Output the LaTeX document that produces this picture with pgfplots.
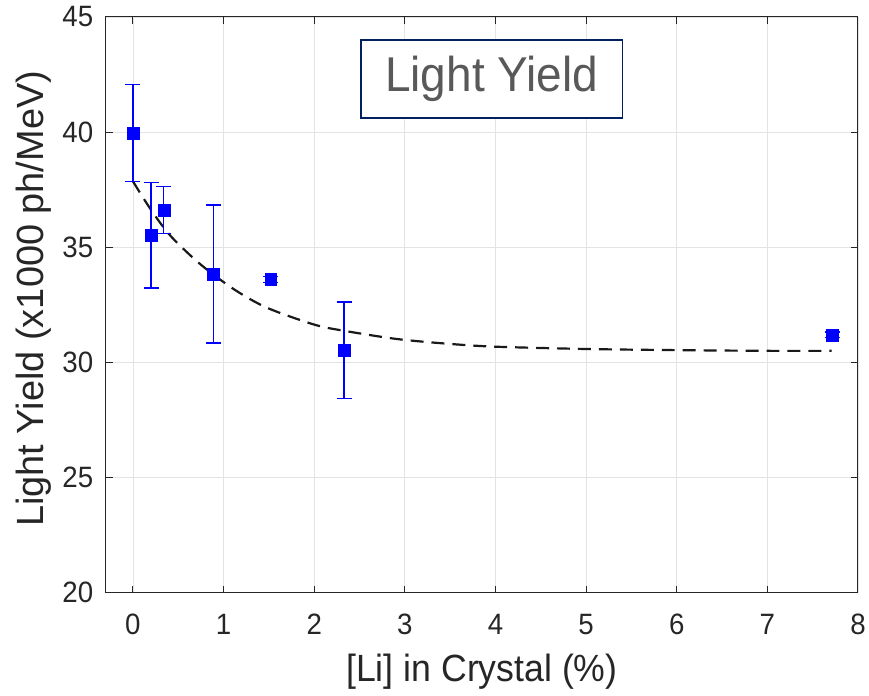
\documentclass[border=0pt]{standalone}
\usepackage{pgfplots}
\pgfplotsset{compat=1.18}
\usepackage{graphicx}
\usepackage{fontspec}
\setmainfont{Liberation Sans}
\definecolor{axgray}{gray}{0.15}
\definecolor{titlegray}{RGB}{89,89,89}
\definecolor{navy}{RGB}{0,32,96}
\definecolor{mblue}{RGB}{0,0,255}
\newcommand{\hs}[1]{\scalebox{0.94}[1]{#1}}
\begin{document}
\begin{tikzpicture}
\begin{axis}[
 scale only axis, width=754pt, height=577pt,
 xmin=-0.3, xmax=8, ymin=20, ymax=45,
 xtick={0,1,2,3,4,5,6,7,8}, ytick={20,25,30,35,40,45},
 xticklabels={\hs{0},\hs{1},\hs{2},\hs{3},\hs{4},\hs{5},\hs{6},\hs{7},\hs{8}},
 yticklabels={\hs{20},\hs{25},\hs{30},\hs{35},\hs{40},\hs{45}},
 grid=major, major grid style={gray!22, line width=0.8pt},
 axis line style={axgray, line width=1pt},
 tick style={axgray, line width=1pt}, tick align=inside, major tick length=7pt,
 ticklabel style={font=\fontsize{29.5}{32}\selectfont, text=axgray},
 yticklabel style={xshift=-9pt},
 xticklabel style={yshift=-18pt},
 xlabel={\hs{[Li] in Crystal (\%)}}, ylabel={Light Yield (x1000 ph/MeV)},
 label style={font=\fontsize{38}{42}\selectfont, text=axgray},
 xlabel style={at={(axis description cs:0.5,0)}, anchor=center, yshift=-79pt},
 ylabel style={at={(axis description cs:0,0.5)}, anchor=center, yshift=72pt, xshift=6pt},
 clip=false,
]
\addplot[black!90, line width=2.2pt, dash pattern=on 13pt off 8pt, smooth, tension=0.5] coordinates {
(0,37.86) (0.2,36.62) (0.42,35.47) (0.75,34.24) (1.12,33.16) (1.48,32.37) (2.0,31.64) (2.33,31.37) (2.92,31.01) (3.5,30.80) (4,30.68) (5,30.58) (6,30.53) (7,30.50) (7.71,30.50)};
\addplot[only marks, mark=square*, mark size=6pt, mblue,
 error bars/.cd, y dir=both, y explicit,
 error bar style={mblue, line width=1.3pt},
 error mark options={rotate=90, mblue, mark size=7.5pt, line width=1.3pt}]
 coordinates {
(0,39.96) +- (0,2.10)
(0.2,35.52) +- (0,2.29)
(0.34,36.615) +- (0,1.02)
(0.89,33.835) +- (0,3.0)
(1.52,33.6) +- (0,0.12)
(2.33,30.53) +- (0,2.09)
(7.72,31.2) +- (0,0.12)
};
\node[draw=navy, line width=1.5pt, fill=white, text=titlegray, font=\fontsize{49}{52}\selectfont, minimum width=262pt, minimum height=78pt, inner sep=0pt] at (rel axis cs:0.513,0.892) {\hs{Light Yield}};
\end{axis}
\path (current axis.south west) ++(-106pt,-103pt);
\path (current axis.north east) ++(9pt,17pt);
\end{tikzpicture}
\end{document}
